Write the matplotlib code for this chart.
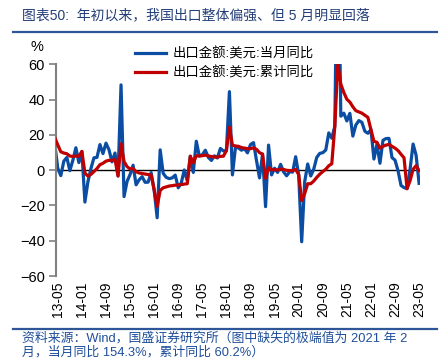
import numpy as np
import matplotlib
matplotlib.use("Agg")
import matplotlib.pyplot as plt
from matplotlib.lines import Line2D

plt.rcParams['font.family'] = ['Liberation Sans', 'Noto Sans CJK SC', 'DejaVu Sans']

# Months from 2013-04 to 2023-05 (index -1 .. 120); ticks every 8 months from 13-05
tick_labels = ['13-05', '14-01', '14-09', '15-05', '16-01', '16-09', '17-05', '18-01',
               '18-09', '19-05', '20-01', '20-09', '21-05', '22-01', '22-09', '23-05']

monthly_yoy = [
    14.7, 1.0, -3.1, 5.1, 7.2, -0.3, 5.6, 12.7, 4.3,                       # 2013-04..12
    10.6, -18.1, -6.6, 0.9, 7.0, 7.2, 14.5, 9.4, 15.3, 11.6, 4.7, 9.7,      # 2014
    -3.3, 48.3, -15.0, -6.4, -2.5, 2.8, -8.3, -5.5, -3.7, -6.9, -6.8, -1.4, # 2015
    -11.2, -27.0, 11.5, -1.8, -4.1, -4.8, -4.4, -2.8, -10.0, -7.3, 0.1, -6.1, # 2016
    7.9, -1.3, 16.4, 8.0, 8.7, 11.3, 7.2, 5.5, 8.1, 6.9, 12.3, 10.9,        # 2017
    11.1, 44.5, -2.7, 12.9, 12.6, 11.3, 12.2, 9.8, 14.5, 15.6, 5.4, -4.4,   # 2018
    9.1, -20.7, 14.2, -2.7, 1.1, -1.3, 3.3, -1.0, -3.2, -0.9, -1.1, 7.6,    # 2019
    -2.5, -40.6, -6.6, 3.5, -3.3, 0.5, 7.2, 9.5, 9.9, 11.4, 21.1, 18.1,     # 2020
    24.8, 154.3, 30.6, 32.3, 27.9, 32.2, 19.3, 25.6, 28.1, 27.1, 22.0, 20.9, # 2021
    23.0, 6.3, 14.7, 3.9, 16.9, 17.9, 18.0, 7.1, 5.7, -0.3, -8.7, -9.9,     # 2022
    -10.5, 0.5, 14.8, 8.5, -7.5,                                            # 2023-01..05
]

cumulative_yoy = [
    18.4, 14.3, 10.4, 9.7, 9.3, 8.0, 7.8, 8.0, 7.9,                         # 2013-04..12
    10.6, -1.6, -3.4, -2.4, -0.8, 0.9, 3.1, 3.9, 5.1, 5.6, 5.5, 6.1,        # 2014
    -3.3, 15.0, 4.9, 2.0, 0.7, 0.9, -0.9, -1.6, -1.9, -2.2, -2.5, -2.8,     # 2015
    -11.2, -20.5, -11.5, -10.0, -9.5, -9.0, -8.8, -8.5, -8.4, -8.2, -7.9, -7.7, # 2016
    7.9, 4.2, 8.2, 8.0, 8.2, 8.5, 8.1, 7.7, 7.5, 7.4, 7.8, 7.9,             # 2017
    11.1, 24.4, 14.1, 13.7, 13.5, 12.8, 12.5, 12.2, 12.2, 12.6, 11.8, 9.9,  # 2018
    9.1, -4.6, 1.4, 0.2, 0.3, 0.1, 0.6, 0.4, -0.1, -0.2, -0.3, 0.5,         # 2019
    -2.5, -17.2, -13.3, -7.7, -7.7, -6.2, -4.1, -2.3, -0.8, 0.5, 2.5, 3.6,  # 2020
    24.8, 60.2, 48.8, 44.0, 40.2, 38.6, 35.9, 33.7, 33.0, 32.3, 31.1, 29.9, # 2021
    23.0, 16.3, 15.8, 12.5, 13.5, 14.2, 14.6, 13.5, 12.5, 11.1, 9.0, 7.0,   # 2022
    -10.5, -6.0, 0.5, 2.5, -0.3,                                            # 2023-01..05
]

label_monthly = '出口金额:美元:当月同比'
label_cum = '出口金额:美元:累计同比'
title = '图表50:  年初以来，我国出口整体偏强、但 5 月明显回落'
source1 = '资料来源：Wind，国盛证券研究所（图中缺失的极端值为 2021 年 2'
source2 = '月，当月同比 154.3%，累计同比 60.2%）'

W, H = 448, 362
fig = plt.figure(figsize=(W / 100, H / 100), dpi=100)
ax = fig.add_axes([56 / W, 1 - 276 / H, (420 - 56) / W, (276 - 64.3) / H])

x = np.arange(-1, len(monthly_yoy) - 1)
blue = '#0B4DA2'
red = '#C00000'
ax.axhline(0, color='black', lw=1.0, zorder=1)
ax.plot(x, monthly_yoy, color=blue, lw=2.3, label=label_monthly, zorder=2, solid_joinstyle='round')
ax.plot(x, cumulative_yoy, color=red, lw=2.3, label=label_cum, zorder=3, solid_joinstyle='round')

ax.set_xlim(-0.6, 120.3)
ax.set_ylim(-60, 60)
ax.set_xticks(np.arange(0, 121, 8))
ax.set_xticklabels(tick_labels, rotation=90, fontsize=10)
ax.set_yticks(np.arange(-60, 61, 20))
ax.tick_params(axis='y', labelsize=10.5, color='#808080', length=5, width=1.2, pad=3)
ax.tick_params(axis='x', length=0, pad=4)
for s in ['top', 'right', 'bottom']:
    ax.spines[s].set_visible(False)
ax.spines['left'].set_color('#808080')
ax.spines['left'].set_linewidth(1.5)

fig.text(37 / W, 1 - 47 / H, '%', fontsize=10.5, ha='center', va='center')

leg = ax.legend(loc='upper left', bbox_to_anchor=(126 / W, 1 - 38 / H), bbox_transform=fig.transFigure,
                frameon=False, fontsize=9.6, handlelength=2.3, handletextpad=0.5, labelspacing=0.42,
                borderpad=0.2)

fig.text(22 / W, 1 - 15 / H, title, fontsize=10, color='#243F78', ha='left', va='center')
fig.add_artist(Line2D([13 / W, 437 / W], [1 - 32.3 / H] * 2, color='#2E5597', lw=1.6))
fig.add_artist(Line2D([13 / W, 437 / W], [1 - 329.3 / H] * 2, color='#2E5597', lw=1.6))
fig.text(22 / W, 1 - 338 / H, source1, fontsize=9.3, color='#1F4E9A', ha='left', va='center')
fig.text(22 / W, 1 - 352 / H, source2, fontsize=9.3, color='#1F4E9A', ha='left', va='center')

fig.savefig('out.png', dpi=100)
